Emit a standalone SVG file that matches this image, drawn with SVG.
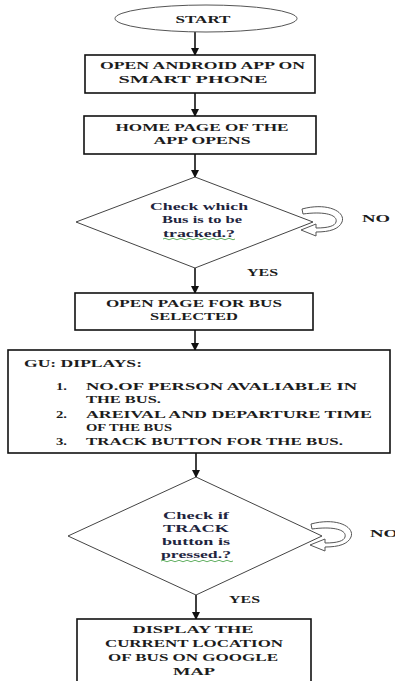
<svg xmlns="http://www.w3.org/2000/svg" xmlns:xlink="http://www.w3.org/1999/xlink" width="395" height="681" viewBox="0 0 395 681">
<defs>
<style>
.box{fill:#fff;stroke:#111;stroke-width:1.6}
.dia{fill:#fff;stroke:#444;stroke-width:1}
.ell{fill:#fff;stroke:#555;stroke-width:1}
.t{font-family:"Liberation Serif","Times New Roman",serif;font-weight:bold;font-size:11px;fill:#1c1c1c}
.m{text-anchor:middle}
.d{fill:#1f2540}
.conn{stroke:#111;stroke-width:1.6;fill:none}
.loop{fill:#fff;stroke:#555;stroke-width:1}
.wavy{fill:none;stroke:#3a9a3a;stroke-width:0.8}
</style>
<marker id="ah" markerWidth="8" markerHeight="8" refX="7" refY="4" orient="auto" markerUnits="userSpaceOnUse">
<path d="M0,0 L8,4 L0,8 Z" fill="#111"/>
</marker>
<path id="loopShape" class="loop" d="M -11 -13 C 15 -20, 33 -10, 29 0 C 26 7, 17 10, 3 10 L 3 14 L -12 8 L 3 2 L 3 6 C 15 6, 22 4, 23 0 C 25 -7, 12 -11, -10 -8 Z"/>
</defs>
<rect width="395" height="681" fill="#fff"/>

<g id="connectors">
<line class="conn" x1="195" y1="32" x2="195" y2="55" marker-end="url(#ah)"/>
<line class="conn" x1="195" y1="93" x2="195" y2="116" marker-end="url(#ah)"/>
<line class="conn" x1="195" y1="154" x2="195" y2="177" marker-end="url(#ah)"/>
<line class="conn" x1="195" y1="268" x2="195" y2="293" marker-end="url(#ah)"/>
<line class="conn" x1="195" y1="330" x2="195" y2="350" marker-end="url(#ah)"/>
<line class="conn" x1="196" y1="453" x2="196" y2="477" marker-end="url(#ah)"/>
<line class="conn" x1="196" y1="595" x2="196" y2="619" marker-end="url(#ah)"/>
<use xlink:href="#loopShape" href="#loopShape" transform="translate(313,222)"/>
<use xlink:href="#loopShape" href="#loopShape" transform="translate(322,537)"/>
<text class="t" x="362" y="222" font-size="12" textLength="28" lengthAdjust="spacingAndGlyphs">NO</text>
<text class="t" x="247" y="275.5" textLength="31" lengthAdjust="spacingAndGlyphs">YES</text>
<text class="t" x="370" y="537" font-size="12" textLength="28" lengthAdjust="spacingAndGlyphs">NO</text>
<text class="t" x="229" y="603" textLength="31" lengthAdjust="spacingAndGlyphs">YES</text>
</g>

<g id="start">
<ellipse class="ell" cx="206" cy="18.5" rx="91" ry="13.5"/>
<text class="t m" x="203" y="22.5" textLength="55" lengthAdjust="spacingAndGlyphs">START</text>
</g>

<g id="open-app">
<rect class="box" x="85" y="55" width="230" height="38"/>
<text class="t m" x="202.5" y="69" textLength="205" lengthAdjust="spacingAndGlyphs">OPEN ANDROID APP ON</text>
<text class="t m" x="193" y="82.5" textLength="149" lengthAdjust="spacingAndGlyphs">SMART PHONE</text>
</g>

<g id="home-page">
<rect class="box" x="84" y="116" width="232" height="38"/>
<text class="t m" x="202" y="131" textLength="173" lengthAdjust="spacingAndGlyphs">HOME PAGE OF THE</text>
<text class="t m" x="202" y="143.5" textLength="97" lengthAdjust="spacingAndGlyphs">APP OPENS</text>
</g>

<g id="check-bus">
<polygon class="dia" points="195,177 313,222 195,268 76,222"/>
<text class="t m d" x="199" y="210" textLength="98" lengthAdjust="spacingAndGlyphs">Check which</text>
<text class="t m d" x="202" y="223" textLength="80" lengthAdjust="spacingAndGlyphs">Bus is to be</text>
<text class="t m d" x="199" y="236.5" textLength="72" lengthAdjust="spacingAndGlyphs">tracked.?</text>
<path class="wavy" d="M163 239 q2 -1.5 4 0 t4 0 t4 0 t4 0 t4 0 t4 0 t4 0 t4 0 t4 0 t4 0 t4 0 t4 0 t4 0 t4 0 t4 0 t4 0 t4 0 t4 0"/>
</g>

<g id="open-page">
<rect class="box" x="75" y="293" width="238" height="37"/>
<text class="t m" x="194" y="307" textLength="176" lengthAdjust="spacingAndGlyphs">OPEN PAGE FOR BUS</text>
<text class="t m" x="194" y="320" textLength="88" lengthAdjust="spacingAndGlyphs">SELECTED</text>
</g>

<g id="gui-displays">
<rect class="box" x="8" y="350" width="382" height="103"/>
<text class="t" x="24" y="367" textLength="118" lengthAdjust="spacingAndGlyphs">GU: DIPLAYS:</text>
<text class="t" x="56" y="390" textLength="11" lengthAdjust="spacingAndGlyphs">1.</text>
<text class="t" x="86" y="390" textLength="271" lengthAdjust="spacingAndGlyphs">NO.OF PERSON AVALIABLE IN</text>
<text class="t" x="86" y="403" textLength="75" lengthAdjust="spacingAndGlyphs">THE BUS.</text>
<text class="t" x="56" y="418" textLength="11" lengthAdjust="spacingAndGlyphs">2.</text>
<text class="t" x="86" y="418" textLength="286" lengthAdjust="spacingAndGlyphs">AREIVAL AND DEPARTURE TIME</text>
<text class="t" x="86" y="431" textLength="86" lengthAdjust="spacingAndGlyphs">OF THE BUS</text>
<text class="t" x="56" y="445" textLength="11" lengthAdjust="spacingAndGlyphs">3.</text>
<text class="t" x="86" y="445" textLength="257" lengthAdjust="spacingAndGlyphs">TRACK BUTTON FOR THE BUS.</text>
</g>

<g id="check-track">
<polygon class="dia" points="196,477 322,536 196,595 68,536"/>
<text class="t m d" x="196" y="519" textLength="66" lengthAdjust="spacingAndGlyphs">Check if</text>
<text class="t m d" x="196" y="532" textLength="66" lengthAdjust="spacingAndGlyphs">TRACK</text>
<text class="t m d" x="196" y="545" textLength="68" lengthAdjust="spacingAndGlyphs">button is</text>
<text class="t m d" x="196" y="558" textLength="70" lengthAdjust="spacingAndGlyphs">pressed.?</text>
<path class="wavy" d="M161 561 q2 -1.5 4 0 t4 0 t4 0 t4 0 t4 0 t4 0 t4 0 t4 0 t4 0 t4 0 t4 0 t4 0 t4 0 t4 0 t4 0 t4 0 t4 0 t4 0"/>
</g>

<g id="display-location">
<rect class="box" x="77" y="619" width="234" height="72"/>
<text class="t m" x="193" y="633" textLength="121" lengthAdjust="spacingAndGlyphs">DISPLAY THE</text>
<text class="t m" x="194" y="647" textLength="178" lengthAdjust="spacingAndGlyphs">CURRENT LOCATION</text>
<text class="t m" x="193" y="661" textLength="170" lengthAdjust="spacingAndGlyphs">OF BUS ON GOOGLE</text>
<text class="t m" x="194" y="675" textLength="42" lengthAdjust="spacingAndGlyphs">MAP</text>
</g>
</svg>
